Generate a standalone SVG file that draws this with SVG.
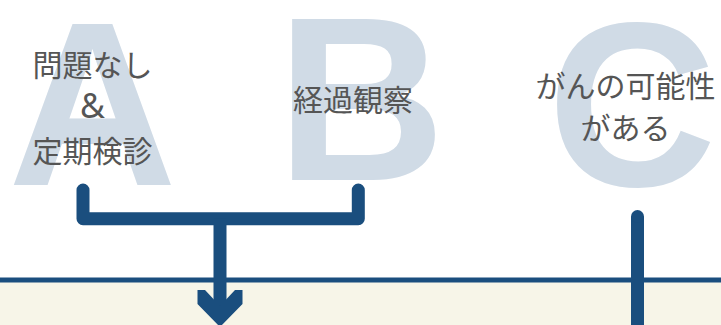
<svg xmlns="http://www.w3.org/2000/svg" width="721" height="325" viewBox="0 0 721 325">
<style>
.big{font-family:"Liberation Sans",Arial,sans-serif;font-weight:bold;font-size:234px;fill:#d0dbe6;text-anchor:middle}
.lbl{font-family:"Noto Sans CJK JP","Noto Sans",sans-serif;font-size:30px;fill:#555555;text-anchor:middle}
.conn{fill:none;stroke:#1a4e7e;stroke-width:13;stroke-linecap:round;stroke-linejoin:round}
</style>
<rect x="0" y="0" width="721" height="325" fill="#ffffff"/>
<rect x="0" y="281" width="721" height="44" fill="#f7f5e8"/>
<line x1="0" y1="280" x2="721" y2="280" stroke="#1a4e7e" stroke-width="5"/>
<g id="node-a">
<text class="big" x="92.5" y="185">A</text>
<text class="lbl" x="92.5" y="76">問題なし</text>
<text class="lbl" x="92.5" y="117.5" style="font-family:'Noto Sans','Noto Sans CJK JP',sans-serif;font-size:34px">&amp;</text>
<text class="lbl" x="92.5" y="162">定期検診</text>
</g>
<g id="node-b">
<text class="big" x="361" y="180">B</text>
<text class="lbl" x="353" y="110.5">経過観察</text>
</g>
<g id="node-c">
<text class="big" x="632" y="186">C</text>
<text class="lbl" x="625.5" y="96.5">がんの可能性</text>
<text class="lbl" x="625.5" y="138.5">がある</text>
</g>
<g id="connectors">
<polyline class="conn" points="83,190 83,218.7 358.3,218.7 358.3,190"/>
<line x1="220" y1="218.7" x2="220" y2="310" stroke="#1a4e7e" stroke-width="13"/>
<polygon points="197.5,290 205,290 220,306 235,290 242.5,290 242.5,304 220,327 197.5,304" fill="#1a4e7e"/>
<line class="conn" x1="637.5" y1="216.5" x2="637.5" y2="330" style="stroke-linecap:butt"/>
<circle cx="637.5" cy="216.5" r="6.5" fill="#1a4e7e"/>
</g>
</svg>
